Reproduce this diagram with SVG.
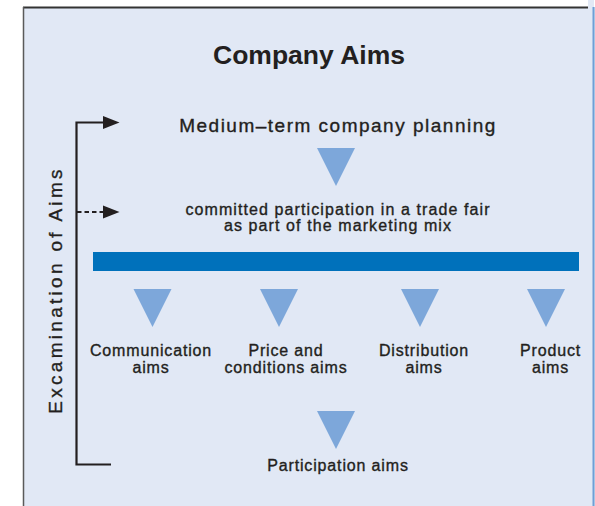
<svg xmlns="http://www.w3.org/2000/svg" width="595" height="506" viewBox="0 0 595 506">
<defs>
<style>
.t{font-family:"Liberation Sans",Arial,sans-serif;fill:#231f20;stroke:#231f20;stroke-width:0.35;text-anchor:middle}
.lbl{font-size:16px;letter-spacing:0.85px}
.tri{fill:#7da7da}
.ln{stroke:#231f20;stroke-width:2.2;fill:none}
.ah{fill:#231f20}
</style>
</defs>
<rect x="0" y="0" width="595" height="506" fill="#ffffff"/>
<g id="panel">
<rect x="23" y="7" width="572" height="499" fill="#e1e8f5"/>
<rect x="588" y="0" width="6" height="8" fill="#e1e8f5"/>
<line x1="23" y1="7.5" x2="588" y2="7.5" stroke="#333333" stroke-width="2"/>
<line x1="23.5" y1="7" x2="23.5" y2="506" stroke="#5a5a5a" stroke-width="1.5"/>
<line x1="593.5" y1="7" x2="593.5" y2="506" stroke="#6f9fd6" stroke-width="2"/>
</g>
<g id="title"><text class="t" x="309" y="64" style="font-size:26.5px;font-weight:bold;stroke-width:0">Company Aims</text></g>
<g id="medium">
<text class="t" x="338" y="132" style="font-size:19px;letter-spacing:1.5px">Medium–term company planning</text>
</g>
<g id="committed">
<text class="t" x="338" y="215" style="font-size:16px;letter-spacing:1.1px">committed participation in a trade fair</text>
<text class="t" x="338" y="231" style="font-size:16px;letter-spacing:1.1px">as part of the marketing mix</text>
</g>
<g id="bar"><rect x="93" y="252" width="486" height="19" fill="#0071bb"/></g>
<g id="communication">
<polygon class="tri" points="133.5,289 171.5,289 152.5,327"/>
<text class="t lbl" x="151" y="356">Communication</text>
<text class="t lbl" x="151" y="373">aims</text>
</g>
<g id="price">
<polygon class="tri" points="260,289 298,289 279,327"/>
<text class="t lbl" x="286" y="356">Price and</text>
<text class="t lbl" x="286" y="373">conditions aims</text>
</g>
<g id="distribution">
<polygon class="tri" points="401,289 439,289 420,327"/>
<text class="t lbl" x="424" y="356">Distribution</text>
<text class="t lbl" x="424" y="373">aims</text>
</g>
<g id="product">
<polygon class="tri" points="527,289 565,289 546,327"/>
<text class="t lbl" x="550.5" y="356">Product</text>
<text class="t lbl" x="550.5" y="373">aims</text>
</g>
<g id="participation">
<polygon class="tri" points="317,411 355,411 336,449"/>
<text class="t lbl" x="338" y="471">Participation aims</text>
</g>
<g id="examination">
<text class="t" transform="translate(62,290) rotate(-90)" style="font-size:19px;letter-spacing:3.3px">Excamination of Aims</text>
</g>
<g id="connectors">
<polygon class="tri" points="317,148 355,148 336,186"/>
<path class="ln" d="M111,464.5 H76.5 V122.5 H104"/>
<polygon class="ah" points="103,116 119.5,122.5 103,129"/>
<line class="ln" x1="77" y1="212" x2="103" y2="212" stroke-dasharray="4.5 3"/>
<polygon class="ah" points="103,205.5 119.5,212 103,218.5"/>
</g>
</svg>
